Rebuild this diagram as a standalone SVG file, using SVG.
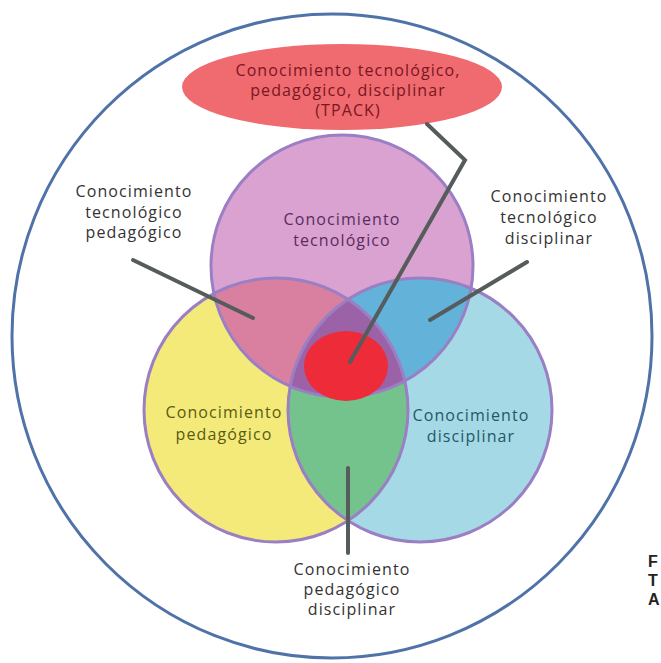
<svg xmlns="http://www.w3.org/2000/svg" width="661" height="663" viewBox="0 0 661 663">
<style>
text{font-family:"Open Sans","Liberation Sans",sans-serif;font-size:16px;letter-spacing:1.1px;text-anchor:middle}
.lbl{fill:#333333}
.tp{fill:#7a1522}
.cut{font-family:"Liberation Sans",Arial,sans-serif;font-size:16px;font-weight:bold;letter-spacing:0;text-anchor:start;fill:#222222}
.ring{fill:none;stroke:#9b7fc4;stroke-width:3}
.con{fill:none;stroke:#565b5b;stroke-width:4;stroke-linecap:round;stroke-linejoin:miter}
</style>
<defs>
<clipPath id="cT"><circle cx="342" cy="266" r="131"/></clipPath>
<clipPath id="cL"><circle cx="276" cy="410" r="132"/></clipPath>
<clipPath id="cR"><circle cx="420" cy="410" r="132"/></clipPath>
</defs>
<rect width="661" height="663" fill="#ffffff"/>
<g id="outer">
<ellipse cx="332" cy="336" rx="320" ry="322" fill="none" stroke="#4f73a8" stroke-width="3"/>
</g>
<g id="tecnologico">
<circle cx="342" cy="266" r="131" fill="#d9a2d0"/>
</g>
<g id="pedagogico">
<circle cx="276" cy="410" r="132" fill="#f3ea7a"/>
</g>
<g id="disciplinar">
<circle cx="420" cy="410" r="132" fill="#a6d9e6"/>
</g>
<g id="tec-ped">
<circle cx="276" cy="410" r="132" fill="#d97fa0" clip-path="url(#cT)"/>
</g>
<g id="tec-dis">
<circle cx="420" cy="410" r="132" fill="#62b2da" clip-path="url(#cT)"/>
</g>
<g id="ped-dis">
<circle cx="420" cy="410" r="132" fill="#74c28c" clip-path="url(#cL)"/>
</g>
<g id="triple" clip-path="url(#cT)">
<circle cx="420" cy="410" r="132" fill="#9b62a8" clip-path="url(#cL)"/>
</g>
<g id="rings">
<circle class="ring" cx="342" cy="266" r="131"/>
<circle class="ring" cx="276" cy="410" r="132"/>
<circle class="ring" cx="420" cy="410" r="132"/>
</g>
<g id="tpack-center">
<ellipse cx="346" cy="366" rx="42" ry="35" fill="#ee2b38"/>
</g>
<g id="tpack-label">
<ellipse cx="342" cy="87" rx="160" ry="43" fill="#ef6b6f"/>
<text x="348" y="76" class="tp">Conocimiento tecnológico,</text>
<text x="348" y="96" class="tp">pedagógico, disciplinar</text>
<text x="348" y="116" class="tp">(TPACK)</text>
</g>
<g id="connectors">
<polyline class="con" points="427,124 465,160 350,362"/>
<line class="con" x1="133" y1="260" x2="253" y2="318"/>
<line class="con" x1="527" y1="262" x2="430" y2="320"/>
<line class="con" x1="348" y1="468" x2="348" y2="553"/>
</g>
<g id="texts">
<text x="342" y="225" fill="#5b2b60">Conocimiento</text>
<text x="342" y="246" fill="#5b2b60">tecnológico</text>
<text x="134" y="197" class="lbl">Conocimiento</text>
<text x="134" y="218" class="lbl">tecnológico</text>
<text x="134" y="238" class="lbl">pedagógico</text>
<text x="549" y="202" class="lbl">Conocimiento</text>
<text x="549" y="223" class="lbl">tecnológico</text>
<text x="549" y="244" class="lbl">disciplinar</text>
<text x="224" y="418" fill="#5a5a12">Conocimiento</text>
<text x="224" y="440" fill="#5a5a12">pedagógico</text>
<text x="471" y="421" fill="#1f5868">Conocimiento</text>
<text x="471" y="442" fill="#1f5868">disciplinar</text>
<text x="352" y="575" class="lbl">Conocimiento</text>
<text x="352" y="595" class="lbl">pedagógico</text>
<text x="352" y="615" class="lbl">disciplinar</text>
<text x="648" y="567" class="cut">F</text>
<text x="648" y="586" class="cut">T</text>
<text x="648" y="605" class="cut">A</text>
</g>
</svg>
